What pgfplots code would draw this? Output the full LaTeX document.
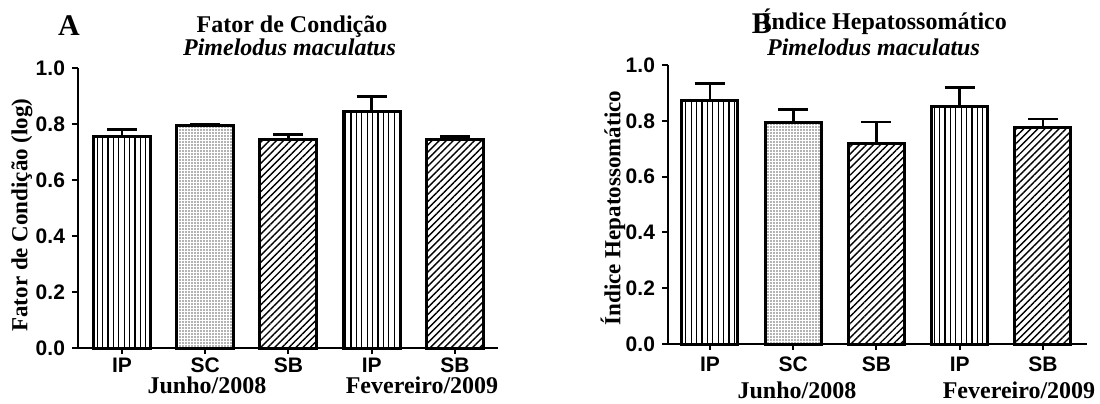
\documentclass[border=0pt]{standalone}
\usepackage{fontspec}
\setmainfont{Liberation Serif}
\setsansfont{Liberation Sans}
\usepackage{pgfplots}
\pgfplotsset{compat=1.18}
\usetikzlibrary{patterns.meta}

\pgfplotsset{
 mybase/.style={
  scale only axis,
  axis x line=bottom, axis y line=left,
  axis line style={-, line width=1pt},
  ymin=0, ymax=1,
  ytick={0,0.2,0.4,0.6,0.8,1.0},
  yticklabels={0.0,0.2,0.4,0.6,0.8,1.0},
  xtick={1,2,3,4,5},
  xticklabels={IP,SC,SB,IP,SB},
  tick align=outside,
  major tick length=3pt,
  tick style={line width=1pt, black},
  ticklabel style={font=\sffamily\bfseries\fontsize{10.5}{12}\selectfont},
  clip=false,
 },
 pIP/.style={pattern={Lines[angle=90,distance=2.7pt,line width=0.55pt]}},
 pSC/.style={pattern={Dots[distance=1.5pt,radius=0.42pt]}, pattern color=black!60},
 pSB/.style={pattern={Lines[angle=45,distance=2.5pt,line width=0.7pt]}},
 barb/.style={ybar, bar shift=0pt, draw=black, line width=1.5pt,
   error bars/.cd, y dir=plus, y explicit,
   error bar style={line width=1.3pt, black, solid},
   error mark options={rotate=90, mark size=7.5pt, line width=1.3pt, black, solid}},
}

\begin{document}
\begin{tikzpicture}
\useasboundingbox (0,0) rectangle (550pt,201.5pt);

% ---------- Panel A ----------
\begin{axis}[mybase, at={(39pt,27.5pt)}, anchor=south west,
  width=210pt, height=140pt, xmin=0.471, xmax=5.517,
  xticklabel style={inner sep=0pt, yshift=-1.8pt}]
\addplot[pIP, bar width=28.5pt, barb] coordinates {(1,0.757) +- (0,0.024)};
\addplot[pSC, bar width=28.5pt, barb] coordinates {(2,0.793) +- (0,0.006)};
\addplot[pSB, bar width=28.5pt, barb] coordinates {(3,0.743) +- (0,0.020)};
\addplot[pIP, bar width=28.5pt, barb] coordinates {(4,0.846) +- (0,0.052)};
\addplot[pSB, bar width=28.5pt, barb] coordinates {(5,0.743) +- (0,0.012)};
\end{axis}

% ---------- Panel B ----------
\begin{axis}[mybase, at={(334pt,29.5pt)}, anchor=south west,
  width=209.5pt, height=139.5pt, xmin=0.4955, xmax=5.529]
\addplot[pIP, bar width=28pt, barb] coordinates {(1,0.874) +- (0,0.060)};
\addplot[pSC, bar width=28pt, barb] coordinates {(2,0.795) +- (0,0.046)};
\addplot[pSB, bar width=28pt, barb] coordinates {(3,0.719) +- (0,0.076)};
\addplot[pIP, bar width=28pt, barb] coordinates {(4,0.853) +- (0,0.066)};
\addplot[pSB, bar width=28pt, barb] coordinates {(5,0.775) +- (0,0.032)};
\end{axis}

% titles and labels
\node[font=\bfseries\fontsize{12}{14}\selectfont, anchor=base] at (146pt,185.5pt) {Fator de Condição};
\node[font=\bfseries\itshape\fontsize{12}{14}\selectfont, anchor=base] at (144.75pt,174pt) {Pimelodus maculatus};
\node[font=\bfseries\fontsize{15}{17}\selectfont, anchor=base] at (34.5pt,184pt) {A};
\node[font=\bfseries\fontsize{11.5}{13}\selectfont, rotate=90] at (11pt,94pt) {Fator de Condição (log)};
\node[font=\bfseries\fontsize{12}{14}\selectfont, anchor=base] at (103.5pt,5pt) {Junho/2008};
\node[font=\bfseries\fontsize{12}{14}\selectfont, anchor=base] at (211pt,5pt) {Fevereiro/2009};

\node[font=\bfseries\fontsize{12}{14}\selectfont, anchor=base] at (442.25pt,186.5pt) {Índice Hepatossomático};
\node[font=\bfseries\itshape\fontsize{12}{14}\selectfont, anchor=base] at (436.75pt,174pt) {Pimelodus maculatus};
\node[font=\bfseries\fontsize{15}{17}\selectfont, anchor=base] at (381pt,185pt) {B};
\node[font=\bfseries\fontsize{11.5}{13}\selectfont, rotate=90] at (306.5pt,97.5pt) {Índice Hepatossomático};
\node[font=\bfseries\fontsize{12}{14}\selectfont, anchor=base] at (398.5pt,2.5pt) {Junho/2008};
\node[font=\bfseries\fontsize{12}{14}\selectfont, anchor=base] at (509.5pt,2.5pt) {Fevereiro/2009};
\end{tikzpicture}
\end{document}
